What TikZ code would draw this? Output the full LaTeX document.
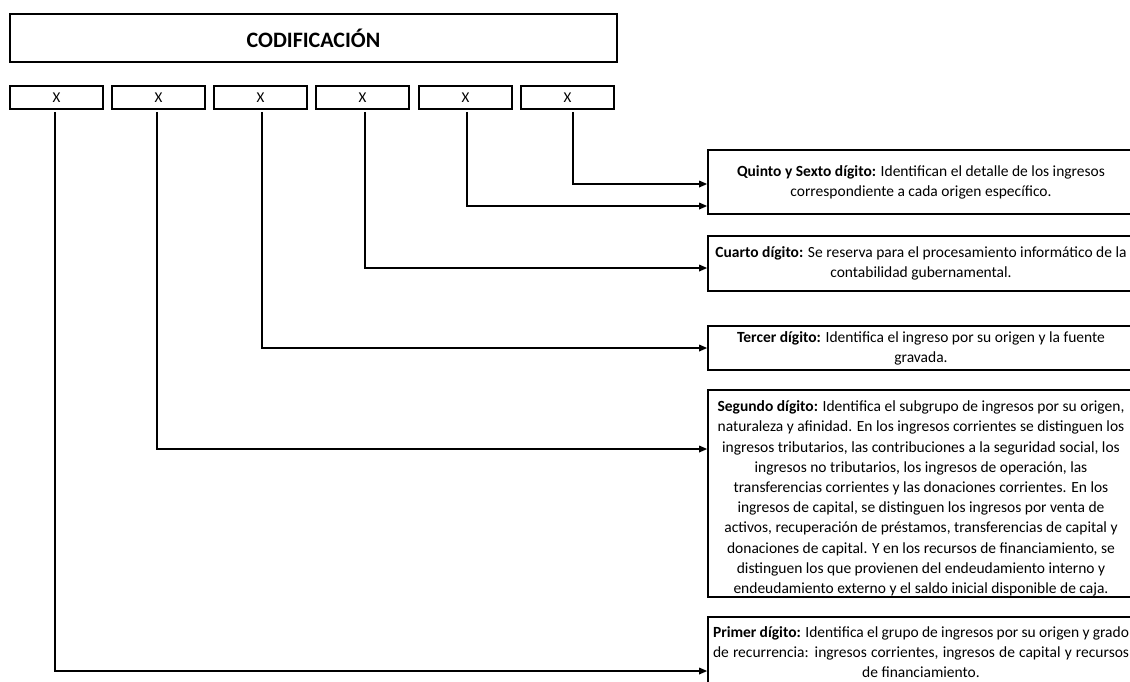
\documentclass[tikz,border=0pt]{standalone}
\usepackage{fontspec}
\setmainfont{Carlito}
\usetikzlibrary{arrows.meta}
\begin{document}
\begin{tikzpicture}[x=1pt,y=-1pt,
  box/.style={draw, line width=1.6pt, inner sep=0pt},
  digit/.style={box, minimum width=93pt, minimum height=23pt, font=\fontsize{15}{17}\selectfont},
  desc/.style={draw, line width=1.6pt, minimum width=426pt, align=center, inner sep=0pt,
    font=\fontsize{15.5}{20.2}\selectfont},
  conn/.style={line width=1.6pt, -{Triangle[length=8pt,width=6.5pt]}}]
\useasboundingbox (0,0) rectangle (1130,681);
\clip (0,0) rectangle (1130,681);

\node[box, minimum width=607pt, minimum height=48pt, font=\bfseries\fontsize{22}{26}\selectfont] (title) at (313.5,38) {CODIFICACIÓN};

\node[digit] (d1) at (56.5,97.5) {X};
\node[digit] (d2) at (158.5,97.5) {X};
\node[digit] (d3) at (260.5,97.5) {X};
\node[digit] (d4) at (362.5,97.5) {X};
\node[digit] (d5) at (465.5,97.5) {X};
\node[digit] (d6) at (567.5,97.5) {X};

\node[desc, minimum height=64pt] (q) at (921,182) {\textbf{Quinto y Sexto dígito:} Identifican el detalle de los ingresos\\ correspondiente a cada origen específico.};
\node[desc, minimum height=55pt] (c) at (921,263.5) {\textbf{Cuarto dígito:} Se reserva para el procesamiento informático de la\\ contabilidad gubernamental.};
\node[desc, minimum height=44pt] (t) at (921,348) {\textbf{Tercer dígito:} Identifica el ingreso por su origen y la fuente\\ gravada.};
\node[desc, minimum height=207pt] (s) at (921,493.5) {\rule{0pt}{21pt}\textbf{Segundo dígito:} Identifica el subgrupo de ingresos por su origen,\\
naturaleza y afinidad. En los ingresos corrientes se distinguen los\\
ingresos tributarios, las contribuciones a la seguridad social, los\\
ingresos no tributarios, los ingresos de operación, las\\
transferencias corrientes y las donaciones corrientes. En los\\
ingresos de capital, se distinguen los ingresos por venta de\\
activos, recuperación de préstamos, transferencias de capital y\\
donaciones de capital. Y en los recursos de financiamiento, se\\
distinguen los que provienen del endeudamiento interno y\\
endeudamiento externo y el saldo inicial disponible de caja.};
\node[desc, minimum height=70pt] (p) at (921,652) {\makebox[416pt][s]{\textbf{Primer dígito:} Identifica el grupo de ingresos por su origen y grado}\\
\makebox[416pt][s]{de recurrencia: ingresos corrientes, ingresos de capital y recursos}\\
de financiamiento.};

\draw[conn] ([xshift=5.5pt,yshift=-2pt]d6.south) |- ([yshift=-2pt]q.west);
\draw[conn] ([xshift=1.5pt,yshift=-2pt]d5.south) |- ([yshift=-24pt]q.west);
\draw[conn] ([xshift=2.5pt,yshift=-2pt]d4.south) |- ([yshift=-4.5pt]c.west);
\draw[conn] ([xshift=1.5pt,yshift=-2pt]d3.south) |- (t.west);
\draw[conn] ([xshift=-1.5pt,yshift=-2pt]d2.south) |- ([yshift=44.5pt]s.west);
\draw[conn] ([xshift=-1.5pt,yshift=-2pt]d1.south) |- ([yshift=-19pt]p.west);
\end{tikzpicture}
\end{document}
